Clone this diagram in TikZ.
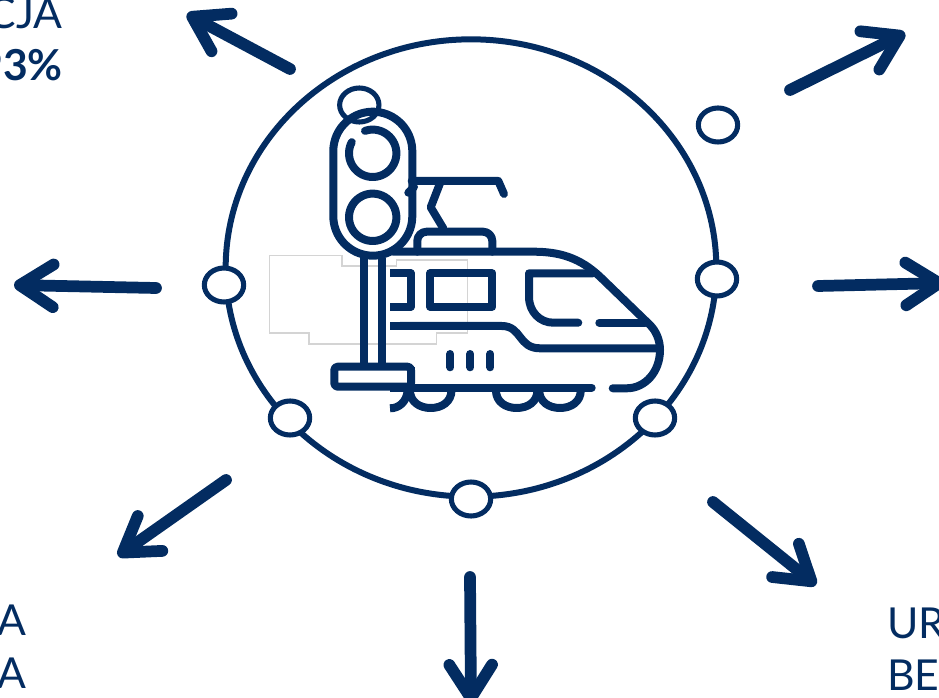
\documentclass[tikz,border=0pt]{standalone}
\usepackage{fontspec}
\setmainfont{Lato}
\usetikzlibrary{arrows.meta,shapes.geometric}
\definecolor{railnavy}{HTML}{032C61}
\tikzset{
  hub/.style={ellipse, draw=railnavy, line width=4.5pt, minimum width=368pt, minimum height=343pt, inner sep=0pt},
  hole/.style={ellipse, draw=railnavy, line width=3.8pt, minimum width=29.5pt, minimum height=25.5pt, inner sep=0pt},
  pointer/.style={railnavy, line width=8.8pt, line cap=round, -{Straight Barb[length=25pt, width=32pt, round]}},
  icon/.style={railnavy, line width=6pt, line cap=round, line join=round},
  caption/.style={text=railnavy, inner sep=0pt, font=\fontsize{32}{32}\selectfont}
}
\begin{document}
\begin{tikzpicture}[x=0.75pt, y=-0.75pt]
  \useasboundingbox (0,0) rectangle (939,698);
  % white patch outline
  \draw[black!17, line width=0.8pt] (269.3,255.5) -- (342,255.5) -- (342,266) -- (396.7,266) -- (396.7,260) -- (467.7,260) -- (467.7,333) -- (436.7,333) -- (436.7,344) -- (309,344) -- (309,333) -- (269.3,333) -- cycle;
  \node[hub] (ring) at (471,268) {};
  \foreach \hname/\hx/\hy in {sigtop/359.3/105, free/718/125} \node[hole] (\hname) at (\hx,\hy) {};
  % train
  \draw[icon] (393,251.7) -- (533.3,251.7) .. controls (560,251.7) and (580,258) .. (600,276.7) -- (650,325) .. controls (656,331) and (660,340) .. (660,350) .. controls (660,372) and (645,388.3) .. (626.7,388.3) -- (612.7,388.3);
  \draw[icon, line cap=butt] (390,387.7) -- (440,387.7);
  \draw[icon] (440,387.7) -- (591.7,387.7);
  \draw[icon, line cap=butt] (390,326) -- (400,326);
  \draw[icon] (400,326) -- (501.7,326) .. controls (522,326) and (518,348.3) .. (540,348.3) -- (658.3,348.3);
  \draw[icon] (593,273.3) -- (529,273.3) -- (529,296.7) .. controls (529,312) and (540,322.7) .. (553.3,322.7) -- (578.3,322.7);
  \draw[icon] (599.3,322.7) -- (645,322.7);
  \draw[icon] (430,273.3) rectangle (492.3,306.7);
  \draw[icon, line cap=butt] (390,273.3) -- (410.7,273.3) -- (410.7,306.7) -- (390,306.7);
  \foreach \vx in {450.3,470.3,490.3} \draw[icon] (\vx,354) -- (\vx,367.3);
  \foreach \wx in {430.7,516.7,560}
    \draw[icon, line cap=butt] (\wx-20.8,390) .. controls (\wx-20.8,402) and (\wx-11,408) .. (\wx,408) .. controls (\wx+11,408) and (\wx+20.8,402) .. (\wx+20.8,390);
  \draw[icon, line cap=butt] (390,408.3) .. controls (399,408.3) and (406,402) .. (407.5,392);
  % roof and pantograph
  \draw[icon, rounded corners=7pt] (417.3,251.7) -- (417.3,231.7) -- (492.3,231.7) -- (492.3,251.7);
  \draw[icon] (411.7,181) -- (498.3,181) -- (504,194);
  \draw[icon] (440,183.3) -- (430.7,207.3) -- (443.3,228.3);
  \draw[icon] (408.3,192.7) -- (414,187);
  % signal
  \draw[icon] plot[domain=0:180, samples=40] ({372.8+39.5*cos(\x)},{151.2-39.5*sin(\x)}) -- plot[domain=180:360, samples=40] ({372.8+39.5*cos(\x)},{216.2-39.5*sin(\x)}) -- cycle;
  \draw[icon] plot[domain=-208:109, samples=50] ({372.7+23.7*cos(\x)},{153.3-23.7*sin(\x)});
  \draw[icon] plot[domain=0:360, samples=50] ({372.7+23.7*cos(\x)},{217.3-23.7*sin(\x)}) -- cycle;
  \draw[icon, line cap=butt] (364,258) -- (364,366);
  \draw[icon, line cap=butt] (382,258) -- (382,366);
  \draw[icon, rounded corners=2.5pt] (334.3,366.7) rectangle (411,386.7);
  \draw[icon, line cap=butt] (411,366.7) -- (411,388);
  \foreach \hname/\hx/\hy in {west/224/285, east/717/279, swest/290/418, seast/655/418, south/471/499}
    \node[hole, fill=white] (\hname) at (\hx,\hy) {};
  % arrows
  \foreach \aname/\sx/\sy/\ex/\ey in {nw/290/69/187/14, ne/790/90/905/33, w/156/288/14/285, e/818/286/945/283, sw/226/480/118/556, s/470/577/471/704, se/713/502/816/585} {
    \coordinate (\aname from) at (\sx,\sy);
    \coordinate (\aname to) at (\ex,\ey);
    \draw[pointer] (\aname from) -- (\aname to);
  }
  % cut off labels
  \node[caption, anchor=base east] (capa) at (63,29) {CJA};
  \node[caption, anchor=base east] (capb) at (63,81) {\bfseries 93\%};
  \node[caption, anchor=base east] (capc) at (27,635) {A};
  \node[caption, anchor=base east] (capd) at (27,688) {A};
  \node[caption, anchor=base west] (cape) at (887,638) {UR};
  \node[caption, anchor=base west] (capf) at (887,690) {BE};
\end{tikzpicture}
\end{document}
